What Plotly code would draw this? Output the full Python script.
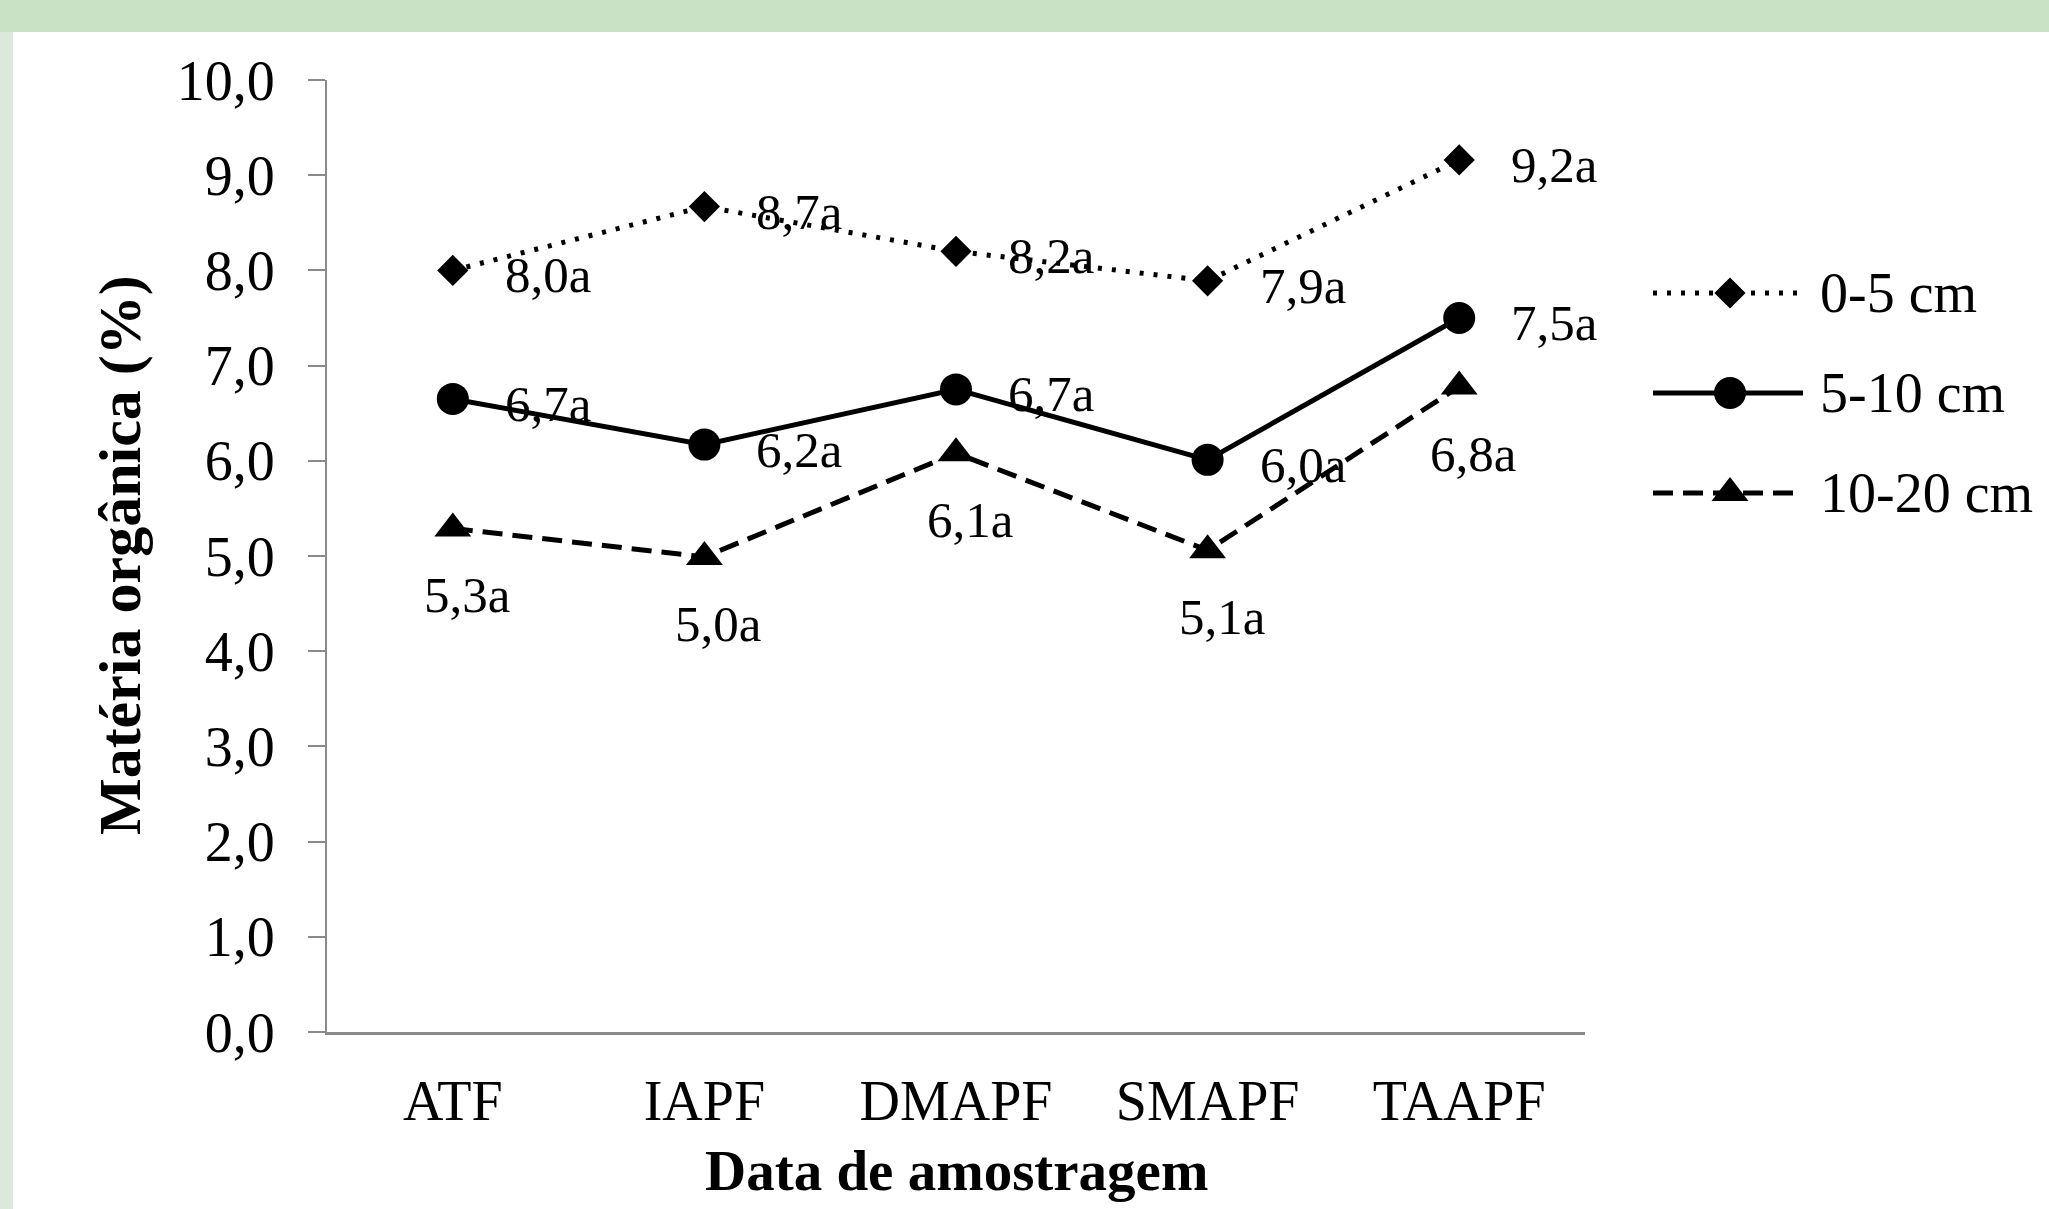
import plotly.graph_objects as go

categories = ["ATF", "IAPF", "DMAPF", "SMAPF", "TAAPF"]
series_names = ["0-5 cm", "5-10 cm", "10-20 cm"]
v_0_5 = [8.0, 8.67, 8.2, 7.89, 9.16]
v_5_10 = [6.65, 6.17, 6.75, 6.01, 7.5]
v_10_20 = [5.29, 4.99, 6.08, 5.06, 6.78]
lab_0_5 = ["8,0a", "8,7a", "8,2a", "7,9a", "9,2a"]
lab_5_10 = ["6,7a", "6,2a", "6,7a", "6,0a", "7,5a"]
lab_10_20 = ["5,3a", "5,0a", "6,1a", "5,1a", "6,8a"]
y_ticks = [0, 1, 2, 3, 4, 5, 6, 7, 8, 9, 10]
y_ticktext = ["0,0", "1,0", "2,0", "3,0", "4,0", "5,0", "6,0", "7,0", "8,0", "9,0", "10,0"]

W, H = 2049, 1209
ML, MR, MT, MB = 327, 0, 80, 177
PW = W - ML - MR
PH = H - MT - MB
main_right = 1585
serif = "Liberation Serif, Times New Roman, serif"

def px_x(p):
    return (p - ML) / PW

def px_y(p):
    return (H - MB - p) / PH

styles = [
    dict(line=dict(color="black", width=5, dash="4px,10px"), marker=dict(symbol="diamond", size=24, color="black")),
    dict(line=dict(color="black", width=5, dash="solid"), marker=dict(symbol="circle", size=32, color="black")),
    dict(line=dict(color="black", width=5, dash="20px,10px"), marker=dict(symbol="triangle-up", size=32, color="black")),
]
values = [v_0_5, v_5_10, v_10_20]
labels = [lab_0_5, lab_5_10, lab_10_20]

fig = go.Figure()
for name, vals, st in zip(series_names, values, styles):
    fig.add_trace(go.Scatter(x=categories, y=vals, mode="lines+markers", name=name,
                             line=st["line"], marker=st["marker"], showlegend=False,
                             xaxis="x", yaxis="y"))

annotations = []
for k, (vals, labs) in enumerate(zip(values, labels)):
    for c, v, t in zip(categories, vals, labs):
        if k < 2:
            annotations.append(dict(x=c, y=v, xref="x", yref="y", text=t, showarrow=False,
                                    xanchor="left", yanchor="middle", xshift=50, yshift=-5,
                                    font=dict(family=serif, size=51, color="black")))
        else:
            annotations.append(dict(x=c, y=v, xref="x", yref="y", text=t, showarrow=False,
                                    xanchor="center", yanchor="middle", xshift=14, yshift=-67,
                                    font=dict(family=serif, size=51, color="black")))

# custom legend on a secondary invisible axis (pixel-like units)
leg_left = 1650
leg_rows = [213, 313, 413]
for name, st, ry in zip(series_names, styles, leg_rows):
    fig.add_trace(go.Scatter(x=[3, 153], y=[ry, ry], mode="lines", line=st["line"],
                             showlegend=False, xaxis="x2", yaxis="y2", hoverinfo="skip"))
    fig.add_trace(go.Scatter(x=[80], y=[ry], mode="markers", marker=st["marker"],
                             showlegend=False, xaxis="x2", yaxis="y2", hoverinfo="skip"))
    annotations.append(dict(x=168, y=ry, xref="x2", yref="y2", text=name, showarrow=False,
                            xanchor="left", yanchor="middle",
                            font=dict(family=serif, size=56, color="black")))

annotations.append(dict(x=px_x((ML + main_right) / 2), y=px_y(1170), xref="paper", yref="paper",
                        text="<b>Data de amostragem</b>", showarrow=False,
                        xanchor="center", yanchor="middle",
                        font=dict(family=serif, size=57, color="black")))
annotations.append(dict(x=px_x(120), y=px_y(555), xref="paper", yref="paper",
                        text="<b>Matéria orgânica (%)</b>", showarrow=False, textangle=-90,
                        xanchor="center", yanchor="middle",
                        font=dict(family=serif, size=60, color="black")))

shapes = [
    dict(type="rect", xref="paper", yref="paper", x0=px_x(0), x1=px_x(W), y0=px_y(32), y1=px_y(0),
         fillcolor="#c9e1c4", line=dict(width=0), layer="below"),
    dict(type="rect", xref="paper", yref="paper", x0=px_x(0), x1=px_x(13), y0=px_y(H), y1=px_y(32),
         fillcolor="#dce8dc", line=dict(width=0), layer="below"),
]

fig.update_layout(
    width=W, height=H,
    margin=dict(l=ML, r=MR, t=MT, b=MB),
    paper_bgcolor="white", plot_bgcolor="white",
    showlegend=False,
    hovermode=False,
    xaxis=dict(domain=[0, px_x(main_right)], type="category", range=[-0.5, 4.5],
               showline=True, linecolor="#8a8a8a", linewidth=3, ticks="", showgrid=False,
               zeroline=False, tickfont=dict(family=serif, size=56, color="black"),
               ticklabelstandoff=18),
    yaxis=dict(range=[0, 10], tickvals=y_ticks, ticktext=y_ticktext, showline=True,
               linecolor="#8a8a8a", linewidth=2, ticks="outside", ticklen=17, tickcolor="#8a8a8a",
               tickwidth=2, showgrid=False, zeroline=False,
               tickfont=dict(family=serif, size=56, color="black"), ticklabelstandoff=22),
    xaxis2=dict(domain=[px_x(leg_left), 1], range=[0, W - leg_left], visible=False,
                anchor="y2", fixedrange=True),
    yaxis2=dict(domain=[0, 1], range=[PH, 0], visible=False, anchor="x2", fixedrange=True),
    annotations=annotations,
    shapes=shapes,
)

fig.write_html("out.html", config={"displayModeBar": False},
               post_script="document.body.style.margin='0px';document.body.style.overflow='hidden';")
